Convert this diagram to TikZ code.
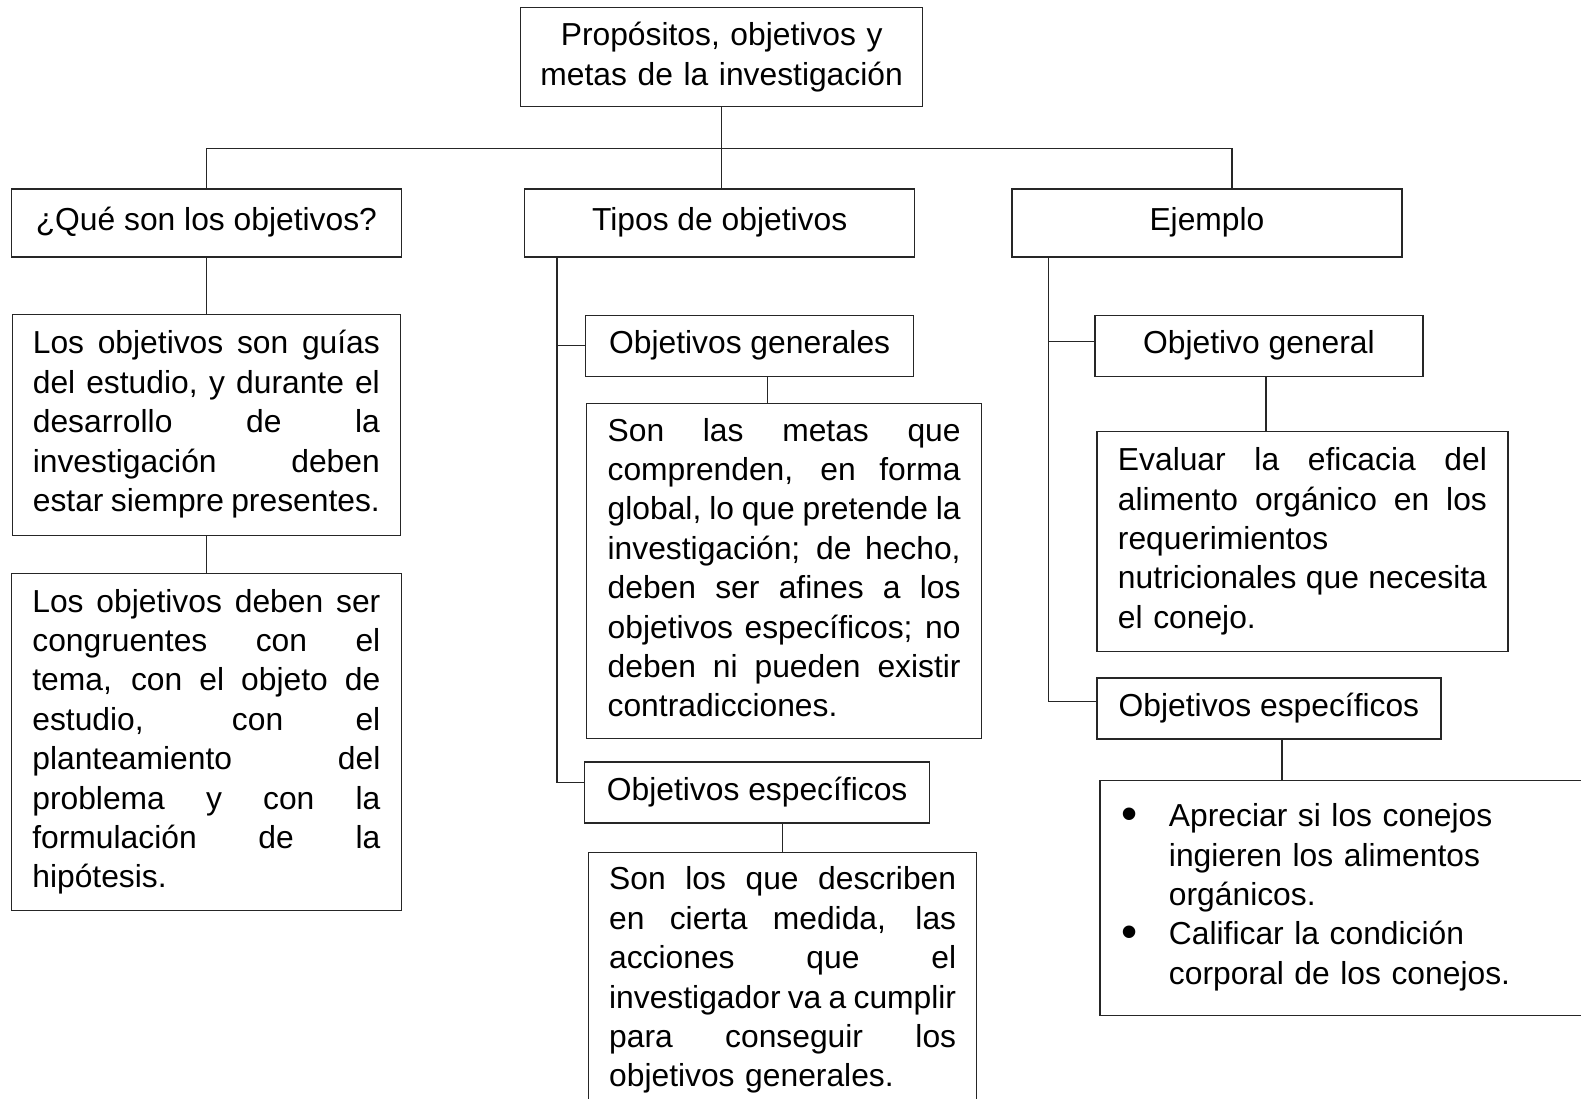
\documentclass[tikz,border=0pt]{standalone}
\usepackage{fontspec}
\setmainfont{Liberation Sans}
\usetikzlibrary{positioning}

\newcommand{\bigtxt}{\fontsize{31.8pt}{39.4pt}\selectfont}
\newcommand{\jline}[1]{\makebox[\hsize][s]{\spaceskip=.278em plus 2em minus .12em\strut #1}\par}
\newcommand{\lline}[1]{\makebox[\hsize][l]{\strut #1}\par}
\newcommand{\bitem}{\makebox[47pt][l]{\raisebox{-3pt}{\fontsize{46pt}{39.4pt}\selectfont\textbullet}}}
\newcommand{\bcont}{\hspace*{47pt}}

\tikzset{
  box/.style={draw=black!85, line width=1.3pt, font=\bigtxt},
  head/.style={box, minimum height=68pt, text height=27.6pt, text depth=11.8pt, inner sep=0pt},
  para/.style={box, inner xsep=0pt, inner ysep=10pt, text width=#1},
  link/.style={draw=black!85, line width=1.3pt}
}

\begin{document}
\begin{tikzpicture}
\useasboundingbox (0,0) rectangle (1581pt,-1099pt);
% nodes
\node[box, align=center, text width=395pt, minimum width=402pt, minimum height=99pt, inner sep=0pt, anchor=north west] (top) at (520pt,-7pt) {Propósitos, objetivos y\\metas de la investigación};

\node[head, minimum width=390pt, below right=81pt and 4pt of top.south west] (tipos) {Tipos de objetivos};
\node[head, minimum width=390pt, left=122pt of tipos] (que) {¿Qué son los objetivos?};
\node[head, minimum width=390pt, right=96pt of tipos] (ej) {Ejemplo};

% left column
\node[para=347pt, minimum width=388pt, minimum height=221pt, below=56pt of que] (qdef) {%
  \jline{Los objetivos son guías}
  \jline{del estudio, y durante el}
  \jline{desarrollo de la}
  \jline{investigación deben}
  \jline{estar siempre presentes.}};
\node[para=348pt, minimum width=390pt, minimum height=337pt, below=37pt of qdef] (qcong) {%
  \jline{Los objetivos deben ser}
  \jline{congruentes con el}
  \jline{tema, con el objeto de}
  \jline{estudio, con el}
  \jline{planteamiento del}
  \jline{problema y con la}
  \jline{formulación de la}
  \lline{hipótesis.}};

% middle column
\node[head, minimum width=328pt, minimum height=61pt, below right=57pt and 61pt of tipos.south west] (gen) {Objetivos generales};
\node[para=353pt, minimum width=395pt, minimum height=332pt, below right=26pt and 1pt of gen.south west] (gendef) {%
  \jline{Son las metas que}
  \jline{comprenden, en forma}
  \jline{global, lo que pretende la}
  \jline{investigación; de hecho,}
  \jline{deben ser afines a los}
  \jline{objetivos específicos; no}
  \jline{deben ni pueden existir}
  \lline{contradicciones.}};
\node[head, minimum width=345pt, minimum height=61pt, below right=22pt and -2pt of gendef.south west] (esp) {Objetivos específicos};
\node[para=347pt, minimum width=388pt, below right=28pt and 4pt of esp.south west] (espdef) {%
  \jline{Son los que describen}
  \jline{en cierta medida, las}
  \jline{acciones que el}
  \jline{investigador va a cumplir}
  \jline{para conseguir los}
  \lline{objetivos generales.}
  \vspace*{60pt}};

% right column
\node[head, minimum width=328pt, minimum height=61pt, below right=57pt and 83pt of ej.south west] (egen) {Objetivo general};
\node[para=369pt, minimum width=411pt, minimum height=220pt, below right=54pt and 2pt of egen.south west] (egendef) {%
  \jline{Evaluar la eficacia del}
  \jline{alimento orgánico en los}
  \lline{requerimientos}
  \jline{nutricionales que necesita}
  \lline{el conejo.}};
\node[head, minimum width=344pt, minimum height=61pt, below right=25pt and 0pt of egendef.south west] (eesp) {Objetivos específicos};
\node[para=496pt, inner xsep=22pt, minimum width=540pt, minimum height=235pt, below right=40pt and 3pt of eesp.south west] (eespdef) {%
  \lline{\bitem Apreciar si los conejos}
  \lline{\bcont ingieren los alimentos}
  \lline{\bcont orgánicos.}
  \lline{\bitem Calificar la condición}
  \lline{\bcont corporal de los conejos.}};

% edges
\draw[link] (top.south) -- (top.south |- tipos.north);
\draw[link] (que.north) -- ++(0,40pt) -| ([xshift=25pt]ej.north);
\draw[link] (que) -- (qdef);
\draw[link] (qdef) -- (qcong);
\draw[link] ([xshift=33pt]tipos.south west) |- (gen.west);
\draw[link] ([xshift=33pt]tipos.south west) |- ([yshift=10pt]esp.west);
\draw[link] ([xshift=18pt]gen.south) -- ([xshift=18pt]gen.south |- gendef.north);
\draw[link] ([xshift=25pt]esp.south) -- ([xshift=25pt]esp.south |- espdef.north);
\draw[link] ([xshift=37pt]ej.south west) |- ([yshift=4pt]egen.west);
\draw[link] ([xshift=37pt]ej.south west) |- ([yshift=7pt]eesp.west);
\draw[link] ([xshift=7pt]egen.south) -- ([xshift=7pt]egen.south |- egendef.north);
\draw[link] ([xshift=13pt]eesp.south) -- ([xshift=13pt]eesp.south |- eespdef.north);
\end{tikzpicture}
\end{document}
